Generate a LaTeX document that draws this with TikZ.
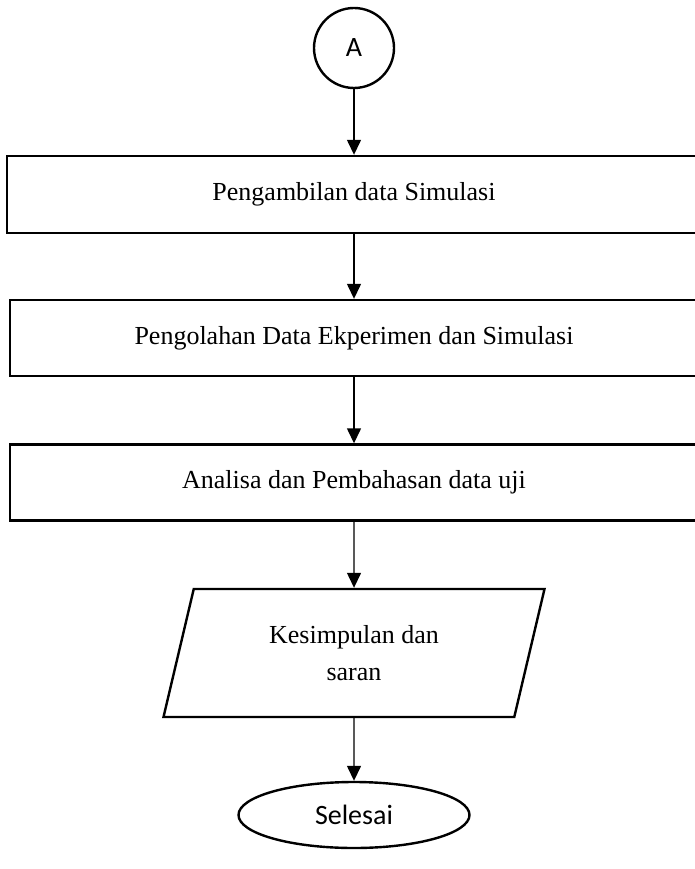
\documentclass[tikz,border=0pt]{standalone}
\usepackage{fontspec}
\setmainfont{Liberation Serif}
\newfontfamily\calibrifont{Carlito}
\usetikzlibrary{shapes.geometric,arrows.meta}

\begin{document}
\begin{tikzpicture}[x=1pt,y=-1pt,
  box/.style={draw, line width=2.4pt, minimum width=688pt, minimum height=76pt, inner sep=0pt, font=\fontsize{26}{31}\selectfont},
  flow/.style={line width=1.4pt, -{Triangle[length=15pt,width=14pt]}}]
\useasboundingbox (0,0) rectangle (695,869);
\clip (0,0) rectangle (695,869);

\node[draw, circle, line width=2.4pt, minimum size=80pt, inner sep=0pt, font=\calibrifont\fontsize{28}{34}\selectfont] (start) at (354,48) {A};
\node[box, minimum width=694pt, minimum height=77pt] (sim) at (354,194.5) {Pengambilan data Simulasi};
\node[box] (olah) at (354,338) {Pengolahan Data Ekperimen dan Simulasi};
\node[box] (analisa) at (354,482.5) {Analisa dan Pembahasan data uji};
\node[draw, trapezium, trapezium left angle=76, trapezium right angle=104, trapezium stretches body, minimum width=381pt, minimum height=128pt, inner xsep=0pt, inner ysep=33pt, line width=2.4pt, align=center, font=\fontsize{26}{37}\selectfont] (simpulan) at (354,653) {Kesimpulan dan\\saran};
\node[draw, ellipse, line width=2.4pt, minimum width=231pt, minimum height=66pt, inner sep=0pt, font=\calibrifont\fontsize{28}{34}\selectfont] (selesai) at (354,815) {Selesai};

\draw[flow] (start) -- (sim);
\draw[flow] (sim) -- (olah);
\draw[flow] (olah) -- (analisa);
\draw[flow] (analisa) -- (simpulan);
\draw[flow] (simpulan) -- (selesai);
\end{tikzpicture}
\end{document}
